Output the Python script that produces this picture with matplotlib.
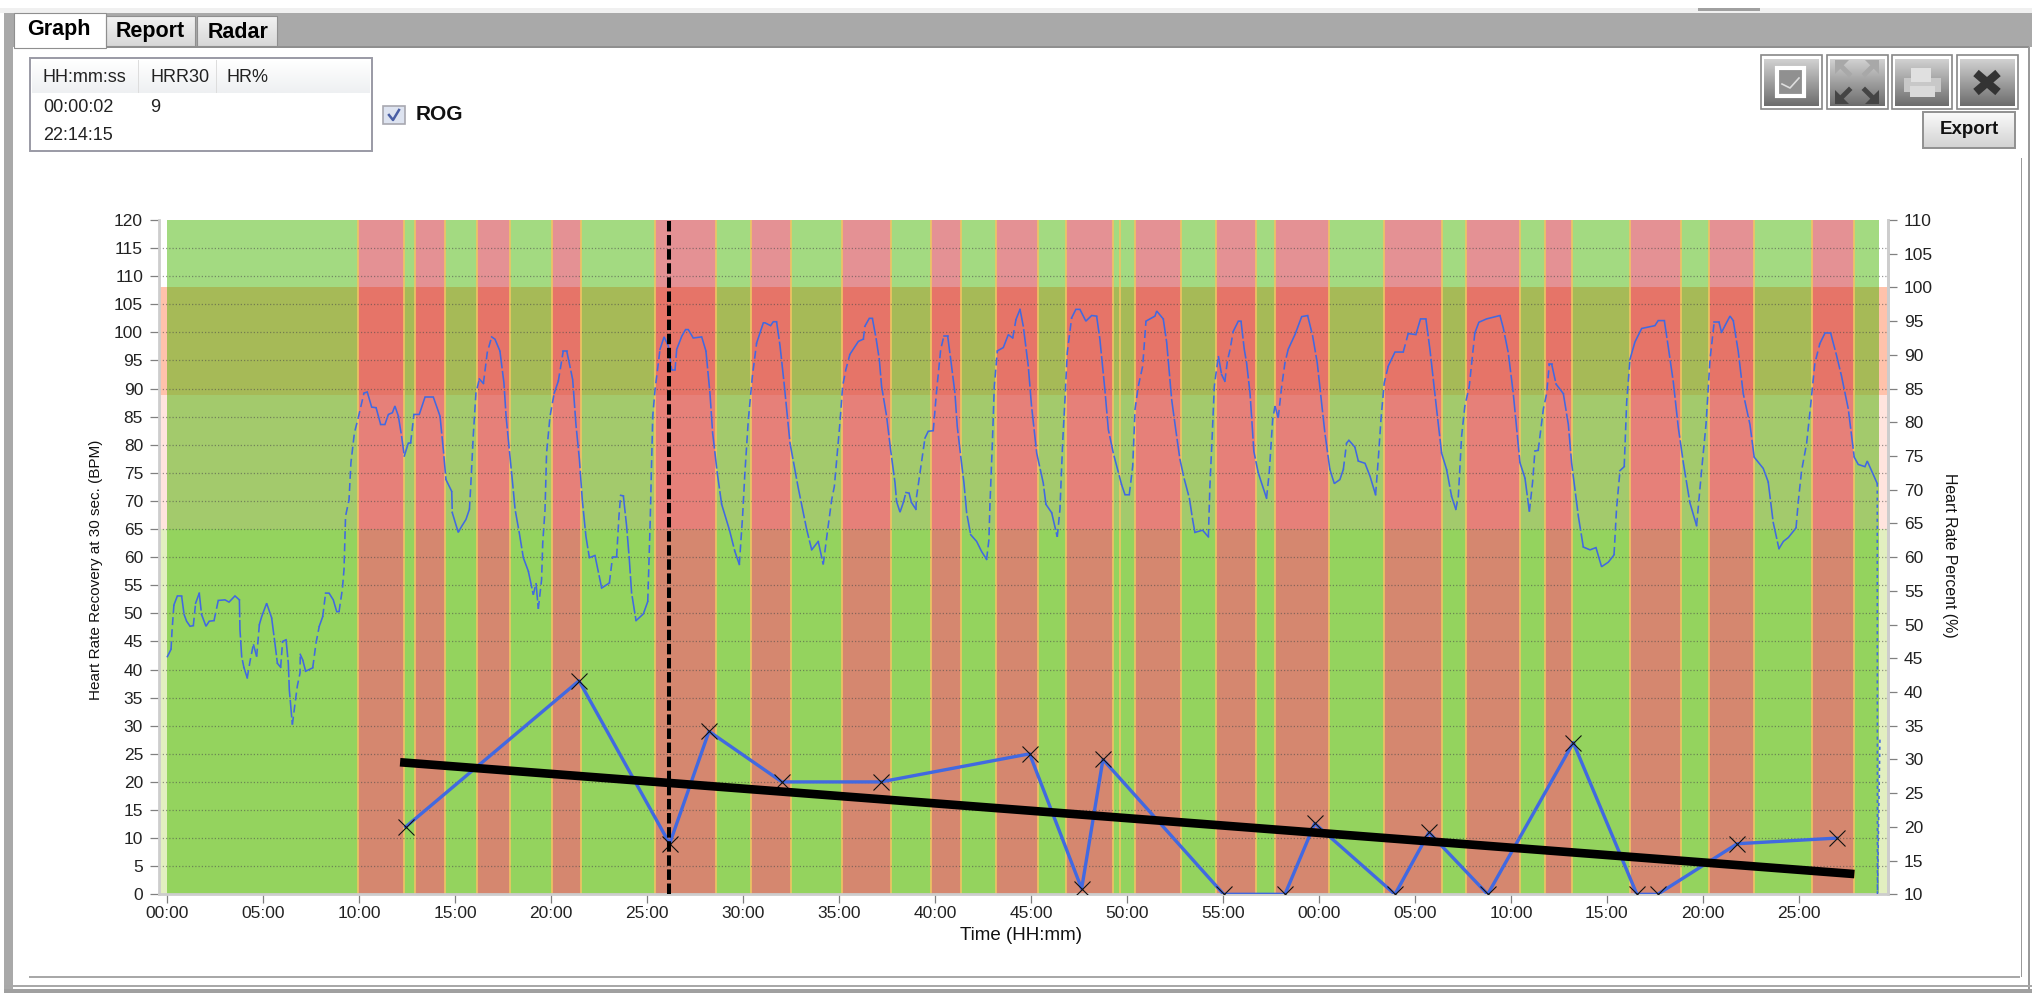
import numpy as np
import matplotlib
matplotlib.use("Agg")
import matplotlib.pyplot as plt
from matplotlib.patches import Rectangle, Polygon
from matplotlib.ticker import FixedLocator, FixedFormatter

plt.rcParams['font.family'] = ['Liberation Sans', 'DejaVu Sans']

# ---------- data ----------
hr_time = [
    0.02,0.21,0.26,0.36,0.54,0.76,0.89,1.02,1.20,1.37,
    1.49,1.68,1.80,2.03,2.20,2.45,2.67,3.02,3.23,3.54,
    3.77,3.80,3.89,4.01,4.18,4.32,4.50,4.67,4.81,4.93,
    5.19,5.45,5.62,5.75,5.92,6.02,6.20,6.32,6.37,6.53,
    6.67,6.79,6.93,6.94,7.07,7.22,7.59,7.76,7.93,8.11,
    8.26,8.44,8.66,8.84,8.96,9.13,9.22,9.30,9.48,9.58,
    9.76,9.96,10.26,10.43,10.66,10.89,11.13,11.35,11.53,11.74,
    11.87,12.05,12.22,12.36,12.57,12.69,12.86,13.14,13.44,13.87,
    14.22,14.39,14.53,14.83,14.86,15.17,15.35,15.57,15.75,15.82,
    15.95,16.09,16.27,16.48,16.68,16.91,17.08,
    17.34,17.55,17.66,17.83,18.00,18.13,18.35,18.56,18.82,19.08,
    19.22,19.34,19.51,19.57,19.69,19.77,19.95,20.17,20.38,20.64,
    20.82,21.13,21.30,21.48,21.63,21.82,22.00,22.29,22.64,23.04,
    23.21,23.42,23.54,23.63,23.77,23.94,24.08,24.20,24.43,24.81,
    25.04,25.16,25.30,25.42,25.68,25.89,26.11,26.29,26.46,26.55,
    26.81,27.01,27.15,27.41,27.85,28.07,28.28,28.42,28.66,28.89,
    29.29,29.58,29.81,29.98,30.10,30.28,30.49,30.71,31.06,31.15,
    31.44,31.58,31.75,31.93,32.14,32.45,32.88,33.32,33.58,33.92,
    34.18,34.39,34.62,34.76,
    35.05,35.19,35.36,35.57,36.01,36.27,36.35,36.58,36.74,36.93,
    37.10,37.22,37.48,37.69,37.92,38.00,38.18,38.35,38.49,38.65,
    38.78,39.01,39.03,39.22,39.48,39.65,39.91,40.09,40.30,40.47,
    40.66,40.82,41.04,41.16,41.34,41.51,41.65,41.86,42.17,42.43,
    42.69,42.81,42.86,42.99,43.09,43.25,43.56,43.82,44.05,44.22,
    44.43,44.60,44.86,45.03,45.30,45.64,45.78,46.08,46.37,46.51,
    46.65,46.77,46.89,47.12,47.34,47.55,47.86,48.16,48.42,48.59,
    48.85,49.03,49.29,49.72,49.90,50.12,50.30,50.42,50.59,50.82,
    50.99,51.46,51.55,51.89,52.07,52.33,52.59,
    52.76,52.97,53.25,53.42,53.54,53.94,54.24,54.32,54.44,54.55,
    54.76,54.93,55.10,55.23,55.36,55.54,55.80,55.94,56.11,56.23,
    56.41,56.49,56.61,56.84,57.27,57.41,57.59,57.71,57.88,58.06,
    58.23,58.40,58.75,59.10,59.41,59.67,59.91,60.14,60.31,60.57,
    60.80,61.09,61.27,61.44,61.56,61.87,62.05,62.40,62.66,62.95,
    63.09,63.23,63.40,63.61,63.96,64.39,64.65,65.05,65.29,65.57,
    65.78,66.13,66.39,66.65,66.91,67.13,67.26,67.43,67.60,67.83,
    68.12,68.33,68.73,69.43,69.60,69.86,70.12,70.47,
    70.73,70.96,71.13,71.25,71.42,71.69,71.86,72.00,72.12,72.35,
    72.73,72.99,73.16,73.51,73.77,74.12,74.43,74.72,75.07,75.37,
    75.50,75.68,75.90,76.03,76.20,76.46,76.81,77.50,77.67,77.99,
    78.20,78.46,78.72,78.98,79.32,79.67,79.93,80.16,80.37,80.59,
    80.83,80.97,81.18,81.41,81.58,81.84,82.10,82.45,82.67,83.14,
    83.40,83.66,83.96,84.19,84.45,84.85,84.97,85.14,85.40,85.61,
    85.83,86.09,86.36,86.65,86.96,87.22,87.57,87.88,88.09,88.44,
    88.56,89.08,89.09,89.22,
]
hr_bpm = [
    42.3,43.6,46.8,51.5,53.1,53.1,49.8,48.6,47.7,47.8,
    51.8,53.6,49.8,47.7,48.6,48.7,52.3,52.4,52.0,53.1,
    52.4,47.1,42.3,40.3,38.5,41.4,44.5,42.3,48.0,49.4,
    51.8,49.2,44.7,41.1,40.4,45.0,45.3,41.1,36.4,30.2,
    34.0,37.1,39.4,42.7,41.7,39.7,40.3,44.7,47.7,49.4,
    53.6,53.6,52.4,50.3,50.3,54.2,57.8,67.3,70.2,76.8,
    82.1,84.8,89.2,89.4,86.7,86.6,83.6,83.6,85.4,85.7,
    86.9,85.1,81.5,78.0,80.3,80.3,85.4,85.4,88.5,88.5,
    85.1,79.2,73.8,71.7,67.9,64.4,65.5,66.7,68.5,72.6,
    81.5,89.2,91.7,90.9,96.4,99.2,98.8,
    96.7,91.0,85.1,79.1,73.2,68.5,64.3,59.9,57.5,53.3,
    55.4,50.8,56.0,62.5,68.5,78.5,85.1,89.2,91.3,96.7,
    96.7,91.6,83.6,77.4,70.2,63.7,59.9,60.3,54.5,55.4,
    60.1,60.1,67.3,71.0,70.9,65.5,59.6,53.6,48.7,49.9,
    52.1,65.5,85.1,89.8,97.0,99.2,97.6,93.3,93.3,97.0,
    99.3,100.5,100.5,99.0,99.2,96.7,89.2,82.1,75.0,69.4,
    64.9,61.0,58.7,67.3,75.0,84.5,92.2,98.1,101.7,101.7,
    101.2,101.9,101.9,97.6,91.0,80.3,72.3,64.9,61.3,62.8,
    58.7,64.3,70.2,72.6,
    83.9,90.4,93.4,96.1,98.4,98.8,101.1,102.5,102.5,99.0,
    95.2,90.4,85.1,79.1,73.2,69.9,68.0,69.7,71.5,71.4,
    69.7,68.5,70.5,75.0,81.2,82.4,82.5,89.8,97.0,99.4,
    99.4,95.2,89.2,83.3,78.0,73.2,67.9,64.0,62.8,61.0,
    59.6,63.1,69.0,80.3,90.4,96.7,97.3,99.6,99.0,102.3,
    104.1,101.1,94.0,86.9,78.5,73.2,69.4,67.9,63.6,68.5,
    80.3,88.0,96.4,102.6,104.1,104.1,102.0,103.0,102.9,98.8,
    89.8,82.7,78.5,72.9,71.1,71.1,76.2,86.3,90.4,94.0,
    102.0,102.9,103.8,102.4,98.2,88.0,81.5,
    77.4,74.1,70.5,66.7,64.4,64.8,63.6,72.6,81.5,90.4,
    95.8,92.5,91.3,94.9,96.8,100.2,102.0,102.0,97.0,94.6,
    89.2,85.1,78.8,75.0,70.5,75.0,84.5,86.9,84.8,90.4,
    94.6,97.0,99.6,102.8,103.0,99.4,94.6,87.4,82.1,75.6,
    73.1,73.8,75.6,80.3,80.8,79.6,77.1,76.7,74.4,71.1,
    77.4,84.5,91.0,94.0,96.5,96.5,99.8,99.6,102.4,102.4,
    97.0,86.3,78.5,75.6,70.8,68.5,70.8,81.5,86.9,90.4,
    99.9,101.8,102.4,103.0,100.8,96.4,89.2,76.8,
    74.1,68.1,73.4,78.9,79.0,86.4,89.1,94.4,94.4,90.8,
    89.1,83.6,76.8,67.3,61.8,61.3,61.7,58.3,59.1,60.4,
    68.6,75.4,76.1,87.7,95.2,98.3,100.7,101.2,102.1,102.1,
    97.3,91.1,83.0,76.8,69.7,65.6,75.4,83.6,95.2,101.9,
    101.9,100.0,101.4,102.9,102.1,96.6,89.1,83.6,77.8,75.8,
    73.4,66.2,61.5,62.8,63.5,65.2,70.0,75.4,80.2,87.0,
    94.5,98.0,99.9,99.9,95.9,92.2,86.4,77.8,76.5,76.1,
    77.1,73.1,0.0,27.7,
]
hrr_time = [12.43,21.46,26.18,28.23,32.03,37.17,44.93,47.64,48.75,55.04,
            58.23,59.78,63.96,65.73,68.79,73.25,76.56,77.64,81.79,86.96]
hrr_value = [12,38,9,29,20,20,25,1,24,0,0,12.6,0,11,0,27,0,0,9,10]
trend_time = [12.14,87.89]
trend_value = [23.5,3.6]
cursor_time = 26.15
red_start = [9.94,12.92,16.14,20.07,25.42,30.42,35.15,39.81,43.18,46.82,50.43,54.62,57.73,
             63.39,67.64,71.75,76.18,80.31,85.68]
red_end = [12.34,14.48,17.89,21.54,28.59,32.49,37.73,41.36,45.38,49.29,52.79,56.72,60.53,
           66.43,70.46,73.16,78.85,82.67,87.86]
extra_edge = [49.65]
session_end = 89.16
zone_edges = [0,65,88.9,108.05,120]
left_ticks = list(range(0,125,5))
right_ticks = list(range(10,115,5))
x_ticks = list(range(0,90,5))
x_labels = ['00:00','05:00','10:00','15:00','20:00','25:00','30:00','35:00','40:00','45:00',
            '50:00','55:00','00:00','05:00','10:00','15:00','20:00','25:00']
table_head = ['HH:mm:ss','HRR30','HR%']

# ---------- style ----------
green_cols = ['#94D35E','#A3CA6C','#A6BA57','#A3DA81']
red_cols = ['#D5876F','#E68079','#E67468','#E49194']
margin_cols = ['#E2EFC0','#FFE4DE','#FFC2AB','#FFFFFF']
BLUE = '#4169E1'
W,H = 2032,993
L,R,T,B = 159,1888,220,894.3

fig = plt.figure(figsize=(W/100,H/100),dpi=100,facecolor='white')

# ---------- application chrome ----------
ui = fig.add_axes([0,0,1,1],zorder=-1)
ui.set_axis_off()
def rect(x0,y0,x1,y1,fc='none',ec='none',lw=0,z=1):
    ui.add_patch(Rectangle((x0,y0),x1-x0,y1-y0,facecolor=fc,edgecolor=ec,linewidth=lw,zorder=z))
def grad(x0,y0,x1,y1,c0,c1,z=2):
    g = np.linspace(0,1,32)[:,None]
    a,b = matplotlib.colors.to_rgb(c0),matplotlib.colors.to_rgb(c1)
    img = np.dstack([a[i]+(b[i]-a[i])*g for i in range(3)])
    ui.imshow(img,extent=(x0,x1,y1,y0),aspect='auto',zorder=z,interpolation='bilinear')

rect(0,8,2032,13,fc='#F0F0F0')
rect(1698,8,1760,11,fc='#A0A0A0',z=2)
rect(4,13,2032,47,fc='#A9A9A9')
rect(4,13,13,993,fc='#A9A9A9')
rect(14,46,2029,47.5,fc='#8F8F8F')
rect(2028,47,2030,990,fc='#9A9A9A')
rect(2020.5,158,2022,977,fc='#9A9A9A')
rect(29,976,2020,978,fc='#A8A8A8')
rect(4,985,2032,987,fc='#A8A8A8')
rect(4,989,2032,993,fc='#A0A0A0')
rect(14,13,106,48,fc='white',ec='#8F8F8F',lw=0.8,z=3)
for x0,x1 in ((106,195),(197,277)):
    grad(x0,16,x1,46,'#F2F2F2','#D8D8D8')
    rect(x0,16,x1,46,ec='#8F8F8F',lw=0.8,z=3)
ui.text(59,29,'Graph',fontsize=15.5,fontweight='bold',ha='center',va='center',zorder=4)
ui.text(150,32,'Report',fontsize=15.5,fontweight='bold',ha='center',va='center',zorder=4)
ui.text(238,32,'Radar',fontsize=15.5,fontweight='bold',ha='center',va='center',zorder=4)

rect(30,58,372,151,fc='white',ec='#9A9AA5',lw=1.4,z=2)
grad(32,60,370,93,'#FFFFFF','#EEF0F2',z=3)
for sx in (138,216):
    rect(sx-0.5,60,sx+0.5,93,fc='#DDDDDD',z=4)
for tx,lab in zip((43,150,227),table_head):
    ui.text(tx,78,lab,fontsize=13,color='#222222',va='center',zorder=5)
ui.text(43,108,'00:00:02',fontsize=13,color='#222222',va='center',zorder=5)
ui.text(150,108,'9',fontsize=13,color='#222222',va='center',zorder=5)
ui.text(43,135,'22:14:15',fontsize=13,color='#222222',va='center',zorder=5)

rect(383,106,405,124,fc='#DDE3F0',ec='#A8A8B0',lw=1.2,z=2)
ui.plot([389,393,399],[115,120,110],color='#4A5FA5',lw=1.8,zorder=3)
ui.text(416,114,'ROG',fontsize=15,fontweight='bold',color='#111111',va='center',zorder=3)

btn_x = [(1761,1822),(1827,1887.5),(1892,1952),(1957,2018)]
for x0,x1 in btn_x:
    rect(x0,55,x1,109,fc='white',ec='#888888',lw=1.2,z=2)
    grad(x0+3,59,x1-3,106,'#D0D0D0','#6E6E6E',z=3)
# chart icon
rect(1777,68,1804,96,fc='#909090',ec='white',lw=3,z=4)
ui.plot([1782,1790,1799],[84,88,78],color='#DDDDDD',lw=1.2,zorder=5)
# arrows icon
for sx,sy,c in ((-1,-1,'#A8A8A8'),(1,-1,'#A8A8A8'),(-1,1,'#444444'),(1,1,'#444444')):
    cx,cy = 1857+sx*13,82+sy*13
    ui.add_patch(Polygon([(cx+sx*9,cy+sy*9),(cx-sx*5,cy+sy*9),(cx+sx*9,cy-sy*5)],facecolor=c,zorder=5))
    ui.plot([cx+sx*5,cx-sx*5],[cy+sy*5,cy-sy*5],color=c,lw=3.5,zorder=5)
# printer icon
rect(1911,68,1931,82,fc='#E0E0E0',z=5)
rect(1904,78,1941,92,fc='#C8C8C8',z=4)
rect(1910,86,1935,97,fc='#DADADA',z=5)
# close icon
ui.plot([1976,1998],[73,92],color='#333333',lw=6,zorder=5,solid_capstyle='butt')
ui.plot([1976,1998],[92,73],color='#333333',lw=6,zorder=5,solid_capstyle='butt')
grad(1923,112,2015,148,'#FAFAFA','#D2D2D2')
rect(1923,112,2015,148,ec='#909090',lw=1.4,z=3)
ui.text(1969,130,'Export',fontsize=13.5,fontweight='bold',color='#111111',ha='center',va='center',zorder=4)
ui.set_xlim(0,W)
ui.set_ylim(H,0)

# ---------- chart ----------
ax = fig.add_axes([L/W,1-B/H,(R-L)/W,(B-T)/H],zorder=1)
ax.patch.set_alpha(0)
x0,x1 = -0.417,89.64
ax.set_xlim(x0,x1)
ax.set_ylim(0,120)

red_spans = [(s,e-s) for s,e in zip(red_start,red_end)]
for i in range(4):
    y0,h = zone_edges[i],zone_edges[i+1]-zone_edges[i]
    if margin_cols[i] != '#FFFFFF':
        ax.broken_barh([(x0,0.417),(session_end,x1-session_end)],(y0,h),facecolors=margin_cols[i],zorder=1)
    ax.broken_barh([(0,session_end)],(y0,h),facecolors=green_cols[i],zorder=1.1)
    ax.broken_barh(red_spans,(y0,h),facecolors=red_cols[i],zorder=1.2)
ax.vlines(red_start+red_end+extra_edge,0,120,color='#EFC464',lw=1.4,alpha=0.85,zorder=1.3)
ax.hlines(left_ticks[1:-1],x0,x1,color='#4A4A4A',lw=0.9,alpha=0.55,linestyles=[(0,(1,1.6))],zorder=1.5)

# HR curve: solid where flat, broken on the steep flanks
t,v = np.array(hr_time),np.array(hr_bpm)
slope = np.diff(v)/np.diff(t)
style = np.where(slope>12,1,np.where(slope<-12,2,0))
style[-2:] = 3
patterns = {0:'-',1:(0,(5,2.6)),2:(0,(11,1.6)),3:(0,(2,2.4))}
i = 0
while i < len(style):
    j = i
    while j+1 < len(style) and style[j+1]==style[i]:
        j += 1
    ax.plot(t[i:j+2],v[i:j+2],color=BLUE,lw=1.15,ls=patterns[int(style[i])],zorder=3,
            solid_joinstyle='miter',dash_capstyle='butt')
    i = j+1

ax.plot(hrr_time,hrr_value,color=BLUE,lw=2.4,zorder=4,clip_on=True)
ax.plot(hrr_time,hrr_value,ls='none',marker='x',ms=12,mew=0.8,color='#111111',zorder=4.5,clip_on=True)
ax.plot(trend_time,trend_value,color='black',lw=6.2,solid_capstyle='butt',zorder=5)
ax.plot([cursor_time,cursor_time],[0,120.4],color='black',lw=2.9,ls=(0,(2.6,0.9)),zorder=6,clip_on=False)

ax.spines['top'].set_visible(False)
for s in ('left','right','bottom'):
    ax.spines[s].set_color('#CDCDCD')
    ax.spines[s].set_linewidth(2)
ax.xaxis.set_major_locator(FixedLocator(x_ticks))
ax.xaxis.set_major_formatter(FixedFormatter(x_labels))
ax.yaxis.set_major_locator(FixedLocator(left_ticks))
ax.tick_params(axis='both',length=6.5,width=0.9,color='#808080',labelsize=12.5,labelcolor='#222222',pad=5)
ax.tick_params(axis='x',pad=2)

ax2 = ax.twinx()
ax2.patch.set_alpha(0)
ax2.set_ylim(10,110)
ax2.yaxis.set_major_locator(FixedLocator(right_ticks))
ax2.tick_params(axis='y',length=6.5,width=0.9,color='#808080',labelsize=12.5,labelcolor='#222222',pad=5)
for s in ('top','left','bottom'):
    ax2.spines[s].set_visible(False)
ax2.spines['right'].set_color('#CDCDCD')
ax2.spines['right'].set_linewidth(2)

fig.text(96/W,1-570/H,'Heart Rate Recovery at 30 sec. (BPM)',rotation=90,fontsize=11,color='#111111',ha='center',va='center')
fig.text(1950/W,1-555/H,'Heart Rate Percent (%)',rotation=270,fontsize=11.4,color='#111111',ha='center',va='center')
fig.text(1021/W,1-935/H,'Time (HH:mm)',fontsize=13.5,color='#111111',ha='center',va='center')

fig.savefig('out.png',dpi=100)
